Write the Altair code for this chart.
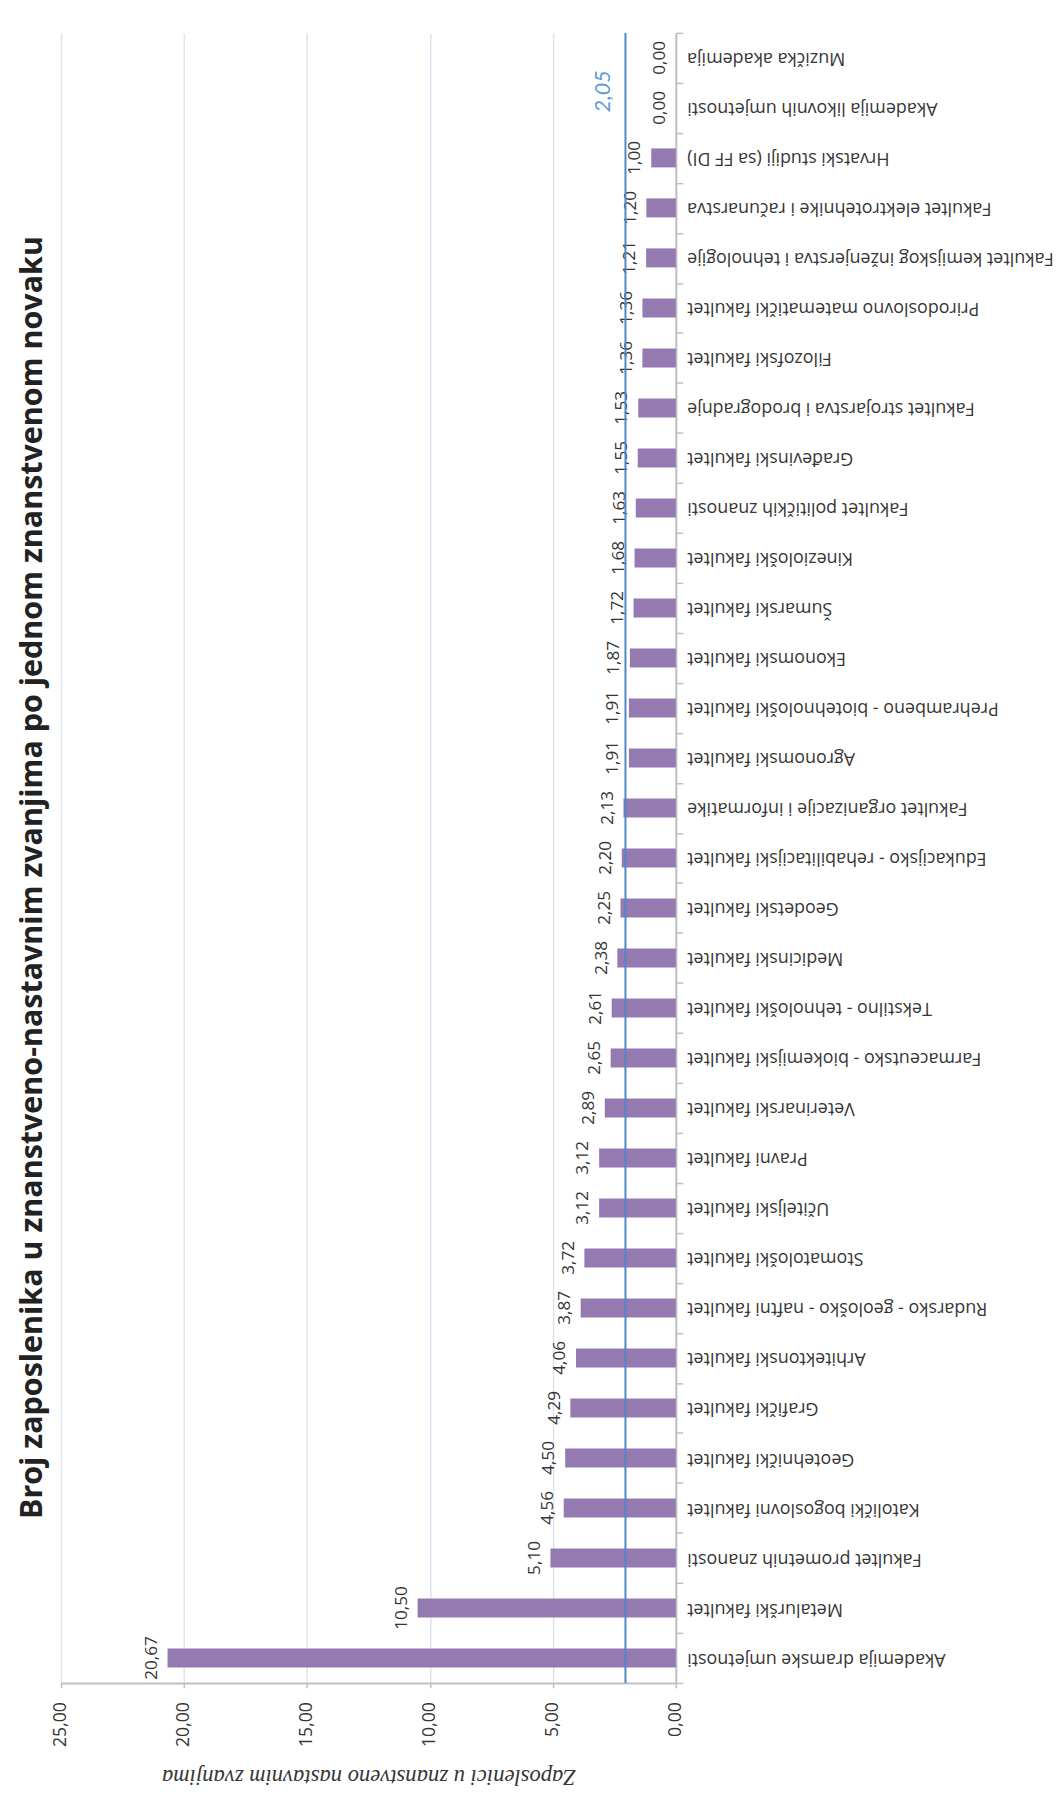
import altair as alt
import pandas as pd

categories = [
    "Akademija dramske umjetnosti", "Metalurški fakultet", "Fakultet prometnih znanosti",
    "Katolički bogoslovni fakultet", "Geotehnički fakultet", "Grafički fakultet",
    "Arhitektonski fakultet", "Rudarsko - geološko - naftni fakultet", "Stomatološki fakultet",
    "Učiteljski fakultet", "Pravni fakultet", "Veterinarski fakultet",
    "Farmaceutsko - biokemijski fakultet", "Tekstilno - tehnološki fakultet", "Medicinski fakultet",
    "Geodetski fakultet", "Edukacijsko - rehabilitacijski fakultet",
    "Fakultet organizacije i informatike", "Agronomski fakultet",
    "Prehrambeno - biotehnološki fakultet", "Ekonomski fakultet", "Šumarski fakultet",
    "Kineziološki fakultet ", "Fakultet političkih znanosti", "Građevinski fakultet",
    "Fakultet strojarstva i brodogradnje", "Filozofski fakultet",
    "Prirodoslovno matematički fakultet", "Fakultet kemijskog inženjerstva i tehnologije",
    "Fakultet elektrotehnike i računarstva", "Hrvatski studiji  (sa FF DI)",
    "Akademija likovnih umjetnosti", "Muzička akademija",
]
values = [20.67, 10.50, 5.10, 4.56, 4.50, 4.29, 4.06, 3.87, 3.72, 3.12, 3.12, 2.89,
          2.65, 2.61, 2.38, 2.25, 2.20, 2.13, 1.91, 1.91, 1.87, 1.72, 1.68, 1.63,
          1.55, 1.53, 1.36, 1.36, 1.21, 1.20, 1.00, 0.00, 0.00]
average = [2.05]
x_ticks = [0, 5, 10, 15, 20, 25]

title_text = "Broj zaposlenika u znanstveno-nastavnim zvanjima po jednom znanstvenom novaku"
x_title = "Zaposlenici u znanstveno nastavnim zvanjima"

df = pd.DataFrame({"category": categories, "value": values})
avg_df = pd.DataFrame({"avg": average, "category": [categories[-1]]})

order = categories[::-1]

y_enc = alt.Y(
    "category:N",
    sort=order,
    scale=alt.Scale(paddingInner=0, paddingOuter=0),
    axis=alt.Axis(
        orient="right", title=None, tickBand="extent",
        labelAngle=180, labelAlign="right", labelBaseline="middle",
        labelFont="Open Sans", labelFontSize=18.2, labelColor="#363636",
        labelLimit=600, labelPadding=4, tickSize=7,
        domainColor="#BFBFBF", domainWidth=2, tickColor="#BFBFBF", tickWidth=1.5,
        grid=False,
    ),
)

x_scale = alt.Scale(domain=[0, 25], reverse=True, nice=False)

bars = alt.Chart(df).mark_bar(height={"band": 0.38}, color="#957AB2").encode(
    x=alt.X(
        "value:Q", scale=x_scale,
        axis=alt.Axis(
            values=x_ticks, orient="bottom", title=x_title,
            labelExpr="replace(format(datum.value, '.2f'), '.', ',')",
            labelAngle=270, labelAlign="right", labelBaseline="middle",
            labelFont="Open Sans", labelFontSize=18, labelColor="#363636",
            labelPadding=14, tickSize=5, tickColor="#BFBFBF", tickWidth=1.5,
            domainColor="#BFBFBF", domainWidth=2,
            grid=True, gridColor="#DCE3F0", gridWidth=1.5,
            titleFont="Liberation Serif", titleFontStyle="italic", titleFontWeight="normal",
            titleFontSize=23, titleColor="#363636", titleAngle=180,
            titleBaseline="bottom", titlePadding=18,
        ),
    ),
    y=y_enc,
)

labels = alt.Chart(df).transform_calculate(
    lbl="replace(format(datum.value, '.2f'), '.', ',')"
).mark_text(
    angle=270, align="center", baseline="alphabetic", dy=-11,
    font="Open Sans", fontSize=17.5, color="#363636",
).encode(
    x=alt.X("value:Q", scale=x_scale),
    y=alt.Y("category:N", sort=order),
    text="lbl:N",
)

rule = alt.Chart(avg_df).mark_rule(color="#4F86C6", strokeWidth=2).encode(
    x=alt.X("avg:Q", scale=x_scale),
)

avg_label = alt.Chart(avg_df).transform_calculate(
    lbl="replace(format(datum.avg, '.2f'), '.', ',')"
).mark_text(
    angle=270, align="right", baseline="alphabetic", dx=-12.5, dy=-16,
    font="Lato", fontStyle="italic", fontSize=22, color="#5B9BD5",
).encode(
    x=alt.X("avg:Q", scale=x_scale),
    y=alt.Y("category:N", sort=order),
    text="lbl:N",
)

chart = alt.layer(bars, labels, rule, avg_label).properties(
    width=626,
    height=1680,
    padding={"left": 9, "top": 0, "right": 0, "bottom": 5},
    title=alt.TitleParams(
        text=title_text, orient="left", anchor="middle",
        font="Open Sans", fontSize=31, fontWeight="bold", color="#222222",
        offset=3, dx=-20,
    ),
).configure_view(stroke=None)

chart.save("out.html", embed_options={"renderer": "svg", "actions": False})
